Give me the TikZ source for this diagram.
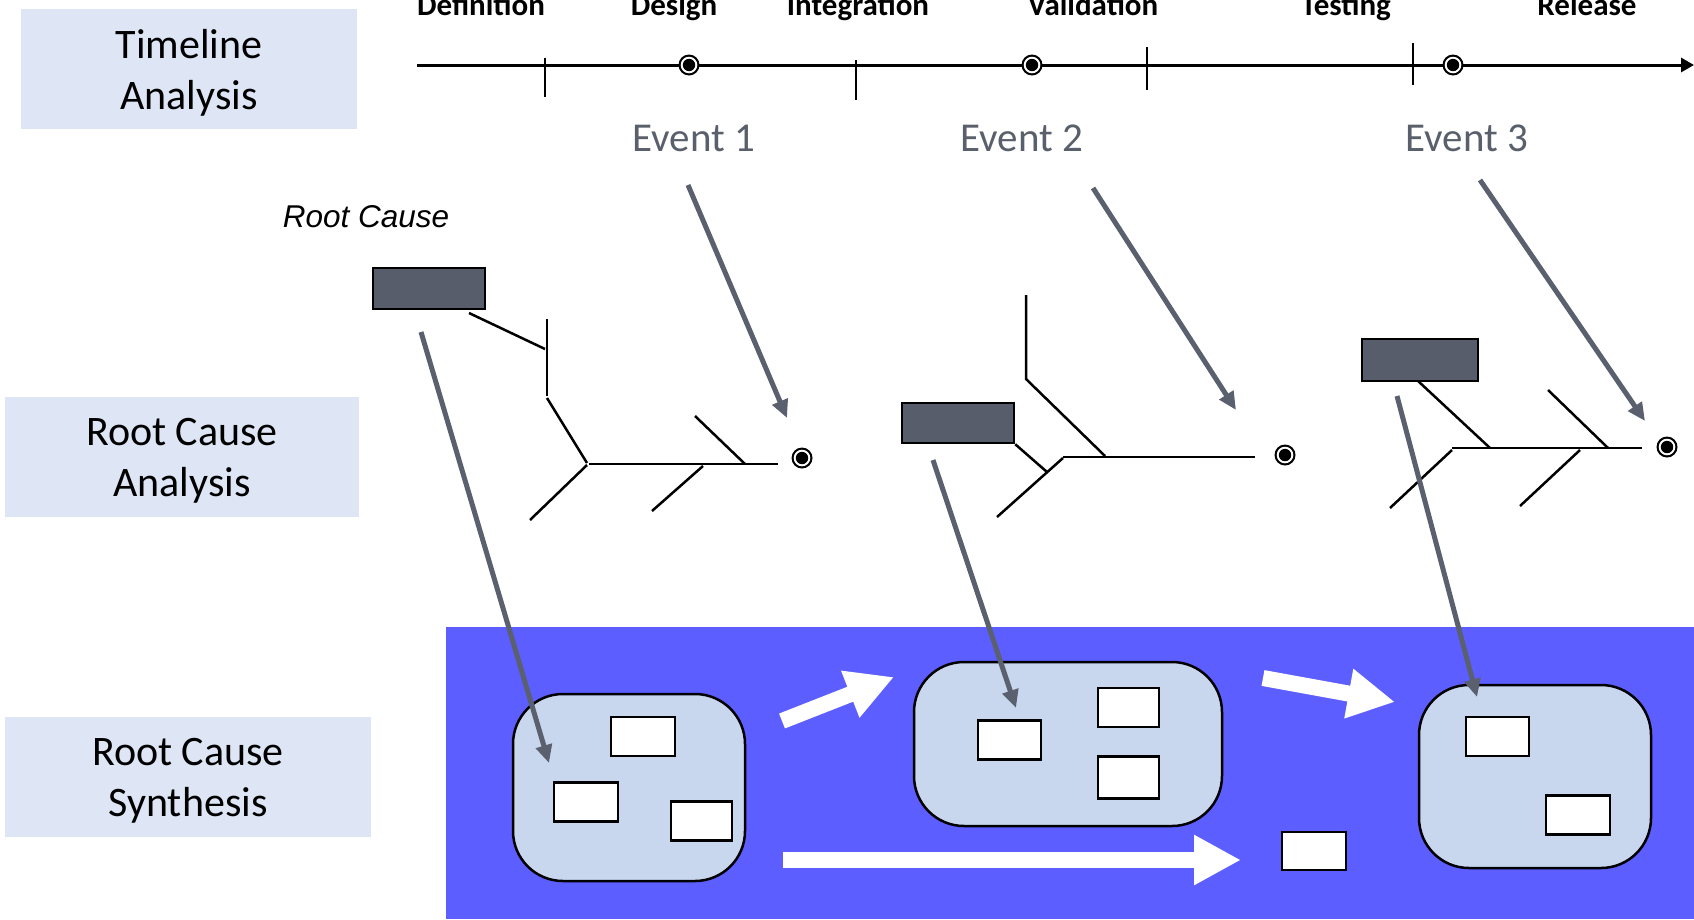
\documentclass[tikz,border=0pt]{standalone}
\usepackage{fontspec}
\setmainfont{Carlito}
\newfontfamily\arialfont{Liberation Sans}
\usetikzlibrary{arrows.meta,calc}
\definecolor{lblfill}{RGB}{222,230,245}
\definecolor{causefill}{RGB}{87,93,107}
\definecolor{arrowgray}{RGB}{90,96,110}
\definecolor{evgray}{RGB}{89,95,107}
\definecolor{panelblue}{RGB}{92,94,255}
\definecolor{synthfill}{RGB}{200,214,238}
\tikzset{
  lblbox/.style={fill=lblfill, draw=none, inner sep=0, minimum height=120pt},
  lbltext/.style={align=center, font=\fontsize{42}{51}\selectfont, inner sep=0},
  phase/.style={font=\fontsize{31}{36}\selectfont\bfseries, anchor=base, inner sep=0},
  evlabel/.style={font=\fontsize{41}{48}\selectfont, text=evgray, anchor=base, inner sep=0},
  bone/.style={line width=2.5pt, draw=black},
  tick/.style={line width=2.5pt, draw=black},
  causebox/.style={draw=black, line width=2.5pt, fill=causefill, inner sep=0},
  linkarrow/.style={draw=arrowgray, line width=5pt, -{Triangle[length=18pt,width=16pt]}},
  synthbox/.style={draw=black, line width=2.5pt, fill=synthfill, rounded corners=50pt, inner sep=0},
  itembox/.style={draw=black, line width=2.5pt, fill=white, inner sep=0},
  flowarrow/.style={draw=white, line width=16pt, -{Triangle[length=47pt,width=47pt]}},
  pics/evmark/.style={code={
    \fill[black] (0,0) circle[radius=10.5];
    \fill[white] (0,0) circle[radius=8.3];
    \fill[black] (0,0) circle[radius=6.2];}}
}
\begin{document}
\begin{tikzpicture}[x=1pt,y=-1pt]
\useasboundingbox (0,0) rectangle (1694,919);

% ---------- left labels ----------
\node[lblbox, minimum width=336pt] (tlbox) at (189,69) {};
\node[lbltext] (tltext) at ($(tlbox.center)+(0,4)$) {Timeline\\Analysis};
\node[lblbox, minimum width=354pt] (rcabox) at (182,457) {};
\node[lbltext] (rcatext) at ($(rcabox.center)+(0,4)$) {Root Cause\\Analysis};
\node[lblbox, minimum width=366pt] (rcsbox) at (188,777) {};
\node[lbltext] (rcstext) at ($(rcsbox.center)+(0,4)$) {Root Cause\\Synthesis};

% ---------- timeline ----------
\coordinate (tlstart) at (417,65);
\coordinate (tlend) at (1694,65);
\draw[line width=3pt, -{Triangle[length=13pt,width=14pt]}] (tlstart) -- (tlend);
\draw[tick] (545,58) -- (545,97);
\draw[tick] (856,60) -- (856,100);
\draw[tick] (1147,47) -- (1147,90);
\draw[tick] (1413,43) -- (1413,85);
\pic at (689,65) {evmark};
\pic at (1032,65) {evmark};
\pic at (1453,65) {evmark};

\node[phase] (ph1) at (481,15) {Definition};
\node[phase] (ph2) at (674,15) {Design};
\node[phase] (ph3) at (858,15) {Integration};
\node[phase] (ph4) at (1093,15) {Validation};
\node[phase] (ph5) at (1346,15) {Testing};
\node[phase] (ph6) at (1587,15) {Release};

\node[evlabel] (ev1) at (694,151) {Event 1};
\node[evlabel] (ev2) at (1022,151) {Event 2};
\node[evlabel] (ev3) at (1467,151) {Event 3};

\node[font=\arialfont\itshape\fontsize{31.5}{36}\selectfont, anchor=base, inner sep=0] (rclabel) at (366,227) {Root Cause};

% ---------- synthesis panel ----------
\fill[panelblue] (446,627) rectangle (1694,919);

\node[synthbox, minimum width=232pt, minimum height=187pt] (sb1) at (629,787.5) {};
\node[synthbox, minimum width=308pt, minimum height=164pt] (sb2) at (1068,744) {};
\node[synthbox, minimum width=232pt, minimum height=183pt] (sb3) at (1535,776.5) {};

\node[itembox, minimum width=64pt, minimum height=39pt] (i11) at (643,736.5) {};
\node[itembox, minimum width=64pt, minimum height=39pt] (i12) at (586,802) {};
\node[itembox, minimum width=61pt, minimum height=39pt] (i13) at (701.5,821) {};
\node[itembox, minimum width=63pt, minimum height=39pt] (i21) at (1009.5,740) {};
\node[itembox, minimum width=61pt, minimum height=39pt] (i22) at (1128.5,707.5) {};
\node[itembox, minimum width=61pt, minimum height=42pt] (i23) at (1128.5,777.5) {};
\node[itembox, minimum width=63pt, minimum height=39pt] (i31) at (1497.5,736.5) {};
\node[itembox, minimum width=64pt, minimum height=39pt] (i32) at (1578,815) {};
\node[itembox, minimum width=64pt, minimum height=38pt] (i40) at (1314,851) {};

\coordinate (fa1s) at (782,721);
\coordinate (fa1e) at (894,677);
\coordinate (fa2s) at (1263,678);
\coordinate (fa2e) at (1395,702);
\coordinate (fa3s) at (783,860);
\coordinate (fa3e) at (1241,860);
\draw[flowarrow] (fa1s) -- (fa1e);
\draw[flowarrow] (fa2s) -- (fa2e);
\draw[flowarrow] (fa3s) -- (fa3e);

% ---------- fishbone 1 ----------
\node[causebox, minimum width=112pt, minimum height=41pt] (cb1) at (429,288.5) {};
\draw[bone] (469,313) -- (545,349);
\draw[bone] (547,319) -- (547,396);
\draw[bone] (547,398) -- (587,463);
\draw[bone] (589,464) -- (778,464);
\draw[bone] (587,465) -- (530,520);
\draw[bone] (695,416) -- (745,464);
\draw[bone] (703,466) -- (652,511);
\pic at (802,458) {evmark};

% ---------- fishbone 2 ----------
\node[causebox, minimum width=112pt, minimum height=40pt] (cb2) at (958,423) {};
\draw[bone] (1026,295) -- (1026,379) -- (1105,456);
\draw[bone] (1063,457) -- (1255,457);
\draw[bone] (cb2.south east) -- (1047,472);
\draw[bone] (1063,458) -- (997,517);
\pic at (1285,455) {evmark};

% ---------- fishbone 3 ----------
\node[causebox, minimum width=116pt, minimum height=42pt] (cb3) at (1420,360) {};
\draw[bone] (1418,381) -- (1490,448);
\draw[bone] (1452,448) -- (1642,448);
\draw[bone] (1548,390) -- (1608,448);
\draw[bone] (1452,450) -- (1390,508);
\draw[bone] (1580,450) -- (1520,506);
\pic at (1667,447) {evmark};

% ---------- gray link arrows ----------
\coordinate (e1s) at (688,185);
\coordinate (e1t) at (787,418);
\coordinate (e2s) at (1093,188);
\coordinate (e2t) at (1236,410);
\coordinate (e3s) at (1480,180);
\coordinate (e3t) at (1645,421);
\coordinate (r1s) at (421,332);
\coordinate (r1t) at (549,763);
\coordinate (r2s) at (933,460);
\coordinate (r2t) at (1016,708);
\coordinate (r3s) at (1397,396);
\coordinate (r3t) at (1477,697);
\draw[linkarrow] (e1s) -- (e1t);
\draw[linkarrow] (e2s) -- (e2t);
\draw[linkarrow] (e3s) -- (e3t);
\draw[linkarrow] (r1s) -- (r1t);
\draw[linkarrow] (r2s) -- (r2t);
\draw[linkarrow] (r3s) -- (r3t);
\end{tikzpicture}
\end{document}
